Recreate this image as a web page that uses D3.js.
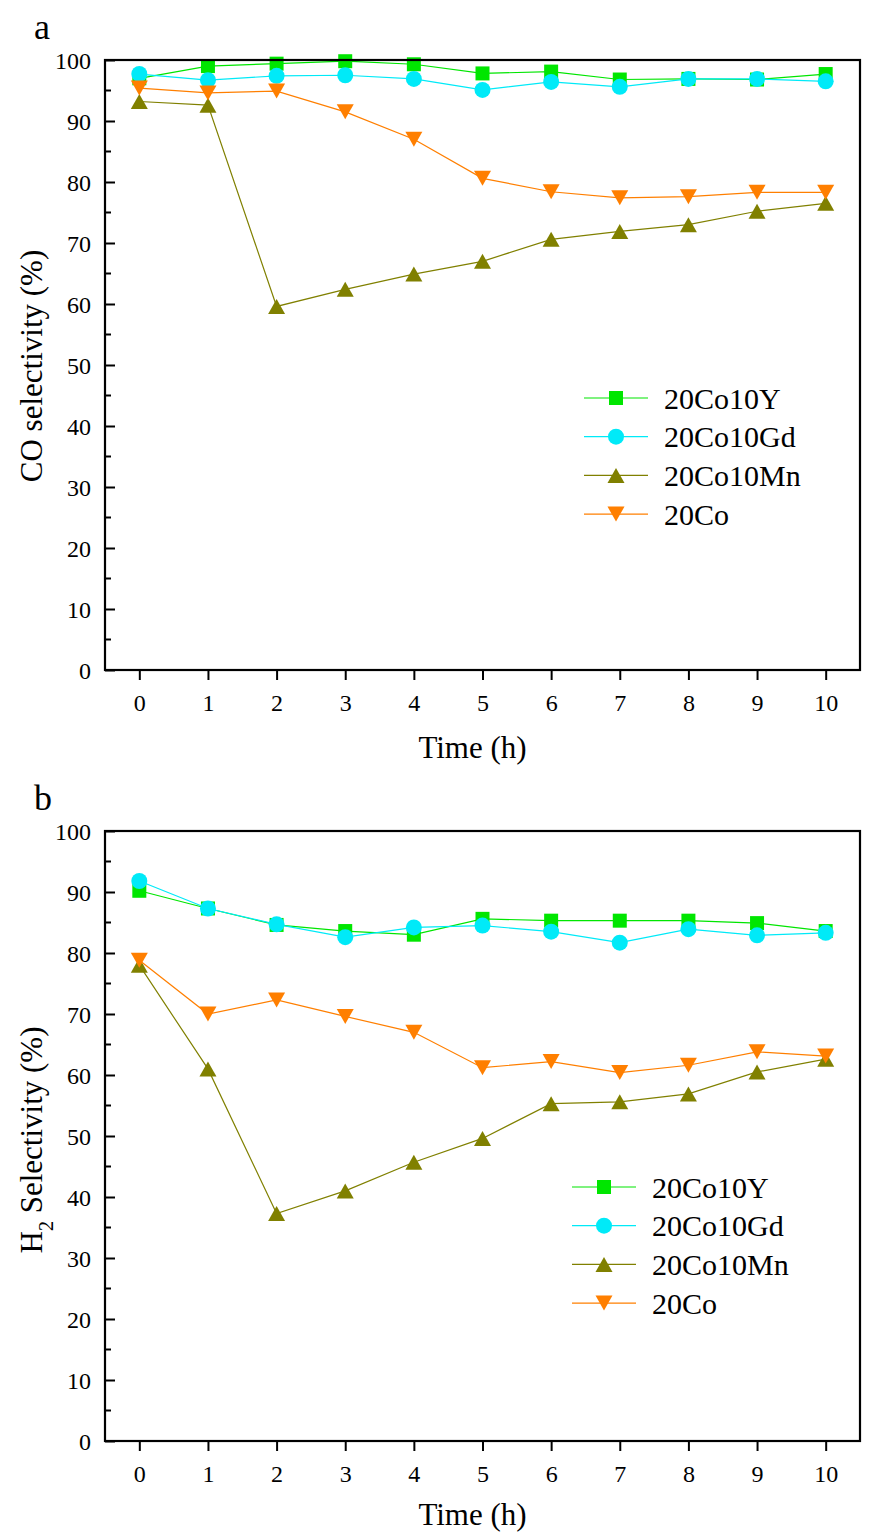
<!DOCTYPE html>
<html>
<head>
<meta charset="utf-8">
<script src="https://cdn.jsdelivr.net/npm/d3@7/dist/d3.min.js"></script>
<style>
  html, body { margin: 0; padding: 0; background: #ffffff; }
  svg { display: block; }
  text { font-family: "Liberation Serif", "Times New Roman", serif; fill: #000; }
</style>
</head>
<body>
<svg id="chart" width="875" height="1535"></svg>
<script>
// Time on stream (h)
const hours = [0, 1, 2, 3, 4, 5, 6, 7, 8, 9, 10];
const seriesNames = ["20Co10Y", "20Co10Gd", "20Co10Mn", "20Co"];
const xTicks = [0, 1, 2, 3, 4, 5, 6, 7, 8, 9, 10];
const yTicks = [0, 10, 20, 30, 40, 50, 60, 70, 80, 90, 100];

// Panel a: CO selectivity (%)
const coY  = [97.0, 99.0, 99.4, 99.8, 99.3, 97.8, 98.1, 96.8, 96.9, 96.8, 97.7];
const coGd = [97.7, 96.7, 97.4, 97.5, 96.9, 95.1, 96.4, 95.6, 96.9, 96.9, 96.5];
const coMn = [93.2, 92.6, 59.6, 62.4, 64.9, 67.0, 70.6, 71.9, 73.0, 75.2, 76.5];
const coCo = [95.4, 94.6, 94.9, 91.5, 87.0, 80.6, 78.4, 77.4, 77.6, 78.3, 78.3];

// Panel b: H2 selectivity (%)
const h2Y  = [90.2, 87.3, 84.6, 83.6, 83.0, 85.6, 85.3, 85.3, 85.3, 84.9, 83.6];
const h2Gd = [91.8, 87.3, 84.7, 82.6, 84.2, 84.5, 83.5, 81.7, 83.9, 82.9, 83.3];
const h2Mn = [78.0, 61.0, 37.3, 41.0, 45.7, 49.6, 55.3, 55.6, 56.9, 60.5, 62.6];
const h2Co = [78.8, 70.0, 72.3, 69.6, 67.0, 61.2, 62.2, 60.4, 61.6, 63.8, 63.1];

const colors = ["#00e600", "#00eaf8", "#808000", "#ff7f00"];
const shapes = ["square", "circle", "up", "down"];
const SERIF = "'Liberation Serif', 'Times New Roman', serif";

const svg = d3.select("#chart");

// Marker outlines centred on their bounding box
function markerPath(shape) {
  const h = 7.5, w = 8.5;
  if (shape === "square") return "M-7,-7H7V7H-7Z";
  if (shape === "circle") {
    const p = d3.path();
    p.arc(0, 0, 8, 0, 2 * Math.PI);
    p.closePath();
    return p.toString();
  }
  if (shape === "up") return `M0,${-h}L${w},${h}L${-w},${h}Z`;
  return `M0,${h}L${w},${-h}L${-w},${-h}Z`;
}

function drawPanel(opts) {
  const { top, bottom, data, panelLabel, labelY, legendX, legendY, yLabel, titleGap } = opts;
  const left = 105, right = 860;

  const x = d3.scaleLinear().domain([-0.5, 10.5]).range([left, right]);
  const y = d3.scaleLinear().domain([0, 100]).range([bottom, top]);

  const g = svg.append("g");

  // series lines and markers
  data.forEach((vals, i) => {
    const line = d3.line().x((d, j) => x(hours[j])).y(d => y(d));
    g.append("path")
      .datum(vals)
      .attr("d", line)
      .attr("fill", "none")
      .attr("stroke", colors[i])
      .attr("stroke-width", 1.2);
    g.selectAll(null)
      .data(vals)
      .enter()
      .append("path")
      .attr("d", markerPath(shapes[i]))
      .attr("transform", (d, j) => `translate(${x(hours[j])},${y(d)})`)
      .attr("fill", colors[i]);
  });

  // y axis: inward ticks, minor every 5
  const yAxis = d3.axisLeft(y).tickValues(yTicks).tickSize(-10).tickPadding(14).tickFormat(d3.format("d"));
  const ya = g.append("g").attr("transform", `translate(${left},0)`).call(yAxis);
  ya.select(".domain").remove();
  ya.selectAll(".tick line").attr("stroke", "#000").attr("stroke-width", 2);
  ya.selectAll(".tick text")
    .style("font-family", SERIF).style("font-size", "24px")
    .attr("x", -14).attr("dy", "0.34em");

  const minor = d3.range(5, 100, 10);
  g.selectAll(null).data(minor).enter().append("line")
    .attr("x1", left).attr("x2", left + 6)
    .attr("y1", d => y(d)).attr("y2", d => y(d))
    .attr("stroke", "#000").attr("stroke-width", 2);

  // x axis: outward ticks
  const xAxis = d3.axisBottom(x).tickValues(xTicks).tickSize(10).tickPadding(14).tickFormat(d3.format("d"));
  const xa = g.append("g").attr("transform", `translate(0,${bottom})`).call(xAxis);
  xa.select(".domain").remove();
  xa.selectAll(".tick line").attr("stroke", "#000").attr("stroke-width", 2);
  xa.selectAll(".tick text")
    .style("font-family", SERIF).style("font-size", "24px");

  // frame
  g.append("rect")
    .attr("x", left).attr("y", top)
    .attr("width", right - left).attr("height", bottom - top)
    .attr("fill", "none").attr("stroke", "#000").attr("stroke-width", 2.2);

  // axis titles
  g.append("text")
    .attr("x", (left + right) / 2 - 10).attr("y", bottom + titleGap)
    .attr("text-anchor", "middle")
    .style("font-size", "31px")
    .text("Time (h)");

  const yl = g.append("text")
    .attr("transform", `translate(42,${labelY}) rotate(-90)`)
    .attr("text-anchor", "middle")
    .style("font-size", "31px");
  yLabel(yl);

  // panel letter
  g.append("text")
    .attr("x", 34).attr("y", top - 21)
    .style("font-size", "36px")
    .text(panelLabel);

  // legend
  const lg = g.append("g").attr("transform", `translate(${legendX},${legendY})`);
  seriesNames.forEach((name, i) => {
    const row = lg.append("g").attr("transform", `translate(0,${i * 38.7})`);
    row.append("line").attr("x1", 0).attr("x2", 64).attr("y1", 0).attr("y2", 0)
      .attr("stroke", colors[i]).attr("stroke-width", 1.2);
    row.append("path").attr("d", markerPath(shapes[i]))
      .attr("transform", "translate(32,0)").attr("fill", colors[i]);
    row.append("text").attr("x", 80).attr("y", 0).attr("dy", "0.35em")
      .style("font-size", "30px").text(name);
  });
}

drawPanel({
  top: 60, bottom: 670,
  data: [coY, coGd, coMn, coCo],
  panelLabel: "a",
  labelY: 366,
  legendX: 584, legendY: 398,
  titleGap: 88,
  yLabel: t => t.text("CO selectivity (%)")
});

drawPanel({
  top: 831, bottom: 1441,
  data: [h2Y, h2Gd, h2Mn, h2Co],
  panelLabel: "b",
  labelY: 1140,
  legendX: 572, legendY: 1187,
  titleGap: 84,
  yLabel: t => {
    t.append("tspan").text("H");
    t.append("tspan").attr("baseline-shift", "sub").style("font-size", "20px").text("2");
    t.append("tspan").text(" Selectivity (%)");
  }
});
</script>
</body>
</html>
